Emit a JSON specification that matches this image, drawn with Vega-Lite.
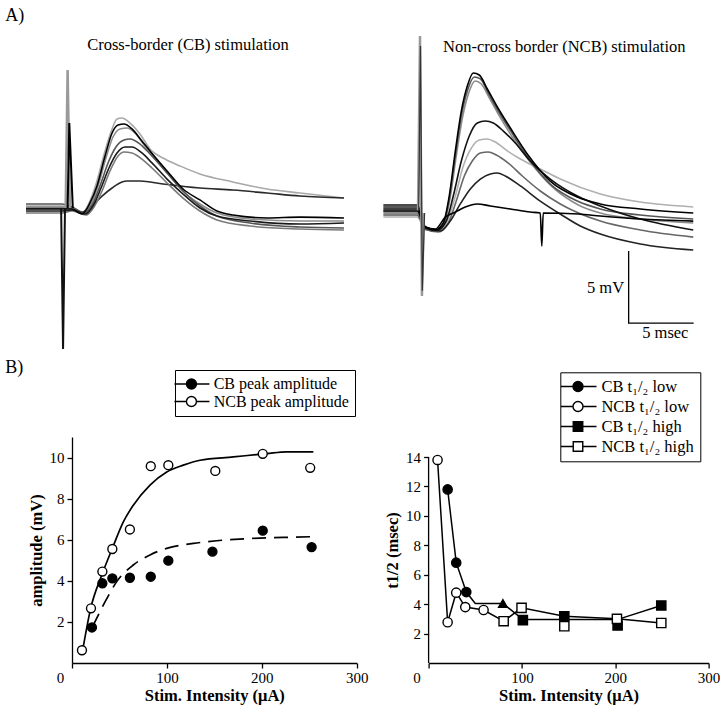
{
"$schema": "https://vega.github.io/schema/vega-lite/v6.json",
"background": "white",
"padding": {"left": 5, "top": 6, "right": 0, "bottom": 2},
"resolve": {"scale": {"color": "independent", "fill": "independent", "shape": "independent", "stroke": "independent"}, "legend": {"color": "independent", "fill": "independent", "shape": "independent", "stroke": "independent"}},
"config": {
  "view": {"stroke": null},
  "font": "Liberation Serif",
  "text": {"font": "Liberation Serif", "color": "black"},
  "axis": {"domainColor": "black", "domainWidth": 1.3, "tickColor": "black", "tickWidth": 1.3, "tickSize": 5, "labelFont": "Liberation Serif", "labelFontSize": 15, "labelColor": "black", "titleFont": "Liberation Serif", "titleFontSize": 16.5, "titleFontWeight": "bold", "titleColor": "black", "grid": false, "labelFlush": false, "labelOverlap": false},
  "legend": {"orient": "none", "strokeColor": "black", "fillColor": "white", "padding": 6, "cornerRadius": 0, "labelFont": "Liberation Serif", "labelFontSize": 16.5, "labelColor": "black", "symbolStrokeColor": "black", "symbolStrokeWidth": 1.4, "symbolSize": 100, "labelLimit": 300}
},
"datasets": {
  "tracesL": [
    {"tr":"L1","t":-3.0,"v":0.14},{"tr":"L1","t":-0.23,"v":0.14},{"tr":"L1","t":0.54,"v":0},{"tr":"L1","t":1.31,"v":-0.35},{"tr":"L1","t":1.92,"v":0.49},{"tr":"L1","t":2.46,"v":1.88},{"tr":"L1","t":3.08,"v":3.96},{"tr":"L1","t":3.62,"v":5.49},{"tr":"L1","t":4.0,"v":6.18},{"tr":"L1","t":4.38,"v":6.25},{"tr":"L1","t":5.0,"v":5.9},{"tr":"L1","t":5.77,"v":5.14},{"tr":"L1","t":6.54,"v":4.1},{"tr":"L1","t":7.69,"v":3.4},{"tr":"L1","t":8.85,"v":2.92},{"tr":"L1","t":10.38,"v":2.36},{"tr":"L1","t":12.92,"v":1.81},{"tr":"L1","t":15.54,"v":1.32},{"tr":"L1","t":18.08,"v":1.04},{"tr":"L1","t":21.46,"v":0.69},
    {"tr":"L7","t":-3.0,"v":0},{"tr":"L7","t":-0.23,"v":0},{"tr":"L7","t":0.54,"v":0},{"tr":"L7","t":1.31,"v":-0.28},{"tr":"L7","t":2.08,"v":0.14},{"tr":"L7","t":2.85,"v":0.83},{"tr":"L7","t":3.62,"v":1.39},{"tr":"L7","t":4.38,"v":1.81},{"tr":"L7","t":4.77,"v":1.88},{"tr":"L7","t":5.77,"v":1.88},{"tr":"L7","t":7.54,"v":1.67},{"tr":"L7","t":10.38,"v":1.39},{"tr":"L7","t":12.92,"v":1.25},{"tr":"L7","t":15.54,"v":1.04},{"tr":"L7","t":18.08,"v":0.83},{"tr":"L7","t":21.46,"v":0.69},
    {"tr":"L5","t":-3.0,"v":-0.35},{"tr":"L5","t":-0.23,"v":-0.35},{"tr":"L5","t":0.54,"v":-0.21},{"tr":"L5","t":1.62,"v":-0.49},{"tr":"L5","t":2.23,"v":0.07},{"tr":"L5","t":2.85,"v":1.18},{"tr":"L5","t":3.46,"v":2.57},{"tr":"L5","t":4.08,"v":3.61},{"tr":"L5","t":4.54,"v":3.89},{"tr":"L5","t":5.15,"v":3.82},{"tr":"L5","t":5.92,"v":3.4},{"tr":"L5","t":6.69,"v":2.78},{"tr":"L5","t":7.85,"v":1.74},{"tr":"L5","t":9.08,"v":0.69},{"tr":"L5","t":10.38,"v":-0.21},{"tr":"L5","t":11.69,"v":-0.83},{"tr":"L5","t":14.23,"v":-1.25},{"tr":"L5","t":18.08,"v":-1.46},{"tr":"L5","t":21.46,"v":-1.53},
    {"tr":"L6","t":-3.0,"v":0.07},{"tr":"L6","t":-0.23,"v":0.07},{"tr":"L6","t":0.54,"v":0},{"tr":"L6","t":1.38,"v":-0.35},{"tr":"L6","t":2.0,"v":0.28},{"tr":"L6","t":2.54,"v":1.53},{"tr":"L6","t":3.15,"v":3.47},{"tr":"L6","t":3.69,"v":4.93},{"tr":"L6","t":4.23,"v":5.49},{"tr":"L6","t":4.77,"v":5.56},{"tr":"L6","t":5.38,"v":5.21},{"tr":"L6","t":6.15,"v":4.31},{"tr":"L6","t":6.92,"v":3.47},{"tr":"L6","t":8.08,"v":2.22},{"tr":"L6","t":9.23,"v":1.04},{"tr":"L6","t":10.38,"v":0.28},{"tr":"L6","t":11.69,"v":-0.35},{"tr":"L6","t":14.23,"v":-0.76},{"tr":"L6","t":18.08,"v":-0.9},{"tr":"L6","t":21.46,"v":-0.9},
    {"tr":"L3","t":-3.0,"v":0.28},{"tr":"L3","t":-0.23,"v":0.28},{"tr":"L3","t":0.54,"v":0.07},{"tr":"L3","t":1.46,"v":-0.35},{"tr":"L3","t":2.08,"v":0.21},{"tr":"L3","t":2.69,"v":1.53},{"tr":"L3","t":3.31,"v":3.13},{"tr":"L3","t":3.92,"v":4.24},{"tr":"L3","t":4.54,"v":4.72},{"tr":"L3","t":5.0,"v":4.79},{"tr":"L3","t":5.77,"v":4.44},{"tr":"L3","t":6.54,"v":3.75},{"tr":"L3","t":7.85,"v":2.43},{"tr":"L3","t":9.08,"v":1.18},{"tr":"L3","t":10.38,"v":0.14},{"tr":"L3","t":11.69,"v":-0.56},{"tr":"L3","t":14.23,"v":-1.04},{"tr":"L3","t":18.08,"v":-1.32},{"tr":"L3","t":21.46,"v":-1.39},
    {"tr":"L4","t":-3.0,"v":-0.21},{"tr":"L4","t":-0.23,"v":-0.21},{"tr":"L4","t":0.54,"v":-0.14},{"tr":"L4","t":1.54,"v":-0.42},{"tr":"L4","t":2.15,"v":0.14},{"tr":"L4","t":2.77,"v":1.39},{"tr":"L4","t":3.38,"v":2.78},{"tr":"L4","t":4.0,"v":3.82},{"tr":"L4","t":4.62,"v":4.24},{"tr":"L4","t":5.15,"v":4.24},{"tr":"L4","t":5.92,"v":3.82},{"tr":"L4","t":6.69,"v":3.13},{"tr":"L4","t":7.85,"v":2.01},{"tr":"L4","t":9.08,"v":0.97},{"tr":"L4","t":10.38,"v":0},{"tr":"L4","t":11.69,"v":-0.56},{"tr":"L4","t":14.23,"v":-0.9},{"tr":"L4","t":18.08,"v":-1.11},{"tr":"L4","t":21.46,"v":-1.04},
    {"tr":"L2","t":-3.0,"v":-0.07},{"tr":"L2","t":-0.23,"v":-0.07},{"tr":"L2","t":0.54,"v":-0.07},{"tr":"L2","t":1.31,"v":-0.42},{"tr":"L2","t":1.92,"v":0.35},{"tr":"L2","t":2.46,"v":1.53},{"tr":"L2","t":3.08,"v":3.61},{"tr":"L2","t":3.62,"v":5.21},{"tr":"L2","t":4.08,"v":5.76},{"tr":"L2","t":4.54,"v":5.83},{"tr":"L2","t":5.15,"v":5.49},{"tr":"L2","t":5.92,"v":4.65},{"tr":"L2","t":6.54,"v":3.96},{"tr":"L2","t":7.85,"v":2.57},{"tr":"L2","t":9.08,"v":1.32},{"tr":"L2","t":10.38,"v":0.56},{"tr":"L2","t":11.69,"v":-0.21},{"tr":"L2","t":12.92,"v":-0.49},{"tr":"L2","t":15.54,"v":-0.69},{"tr":"L2","t":18.08,"v":-0.63},{"tr":"L2","t":21.46,"v":-0.69}
  ],
  "artL": [
    {"tr":"LA1","t":-0.3,"v":0},{"tr":"LA1","t":-0.15,"v":-9.79},{"tr":"LA1","t":0.0,"v":0},
    {"tr":"LA2","t":0.05,"v":0},{"tr":"LA2","t":0.2,"v":9.58},{"tr":"LA2","t":0.38,"v":0},
    {"tr":"LA3","t":0.2,"v":0},{"tr":"LA3","t":0.33,"v":5.9},{"tr":"LA3","t":0.6,"v":0}
  ],
  "tracesR": [
    {"tr":"R5","t":-2.92,"v":-0.28},{"tr":"R5","t":-0.31,"v":-0.28},{"tr":"R5","t":0.31,"v":-1.18},{"tr":"R5","t":1.31,"v":-1.25},{"tr":"R5","t":2.0,"v":-0.56},{"tr":"R5","t":2.62,"v":1.18},{"tr":"R5","t":3.23,"v":3.26},{"tr":"R5","t":3.85,"v":4.51},{"tr":"R5","t":4.46,"v":5.07},{"tr":"R5","t":5.08,"v":5.14},{"tr":"R5","t":5.69,"v":4.93},{"tr":"R5","t":6.62,"v":4.31},{"tr":"R5","t":7.62,"v":3.75},{"tr":"R5","t":9.15,"v":3.06},{"tr":"R5","t":10.69,"v":2.36},{"tr":"R5","t":13.77,"v":1.32},{"tr":"R5","t":16.85,"v":0.76},{"tr":"R5","t":20.92,"v":0.42},
    {"tr":"R3","t":-2.92,"v":0.14},{"tr":"R3","t":-0.31,"v":0.14},{"tr":"R3","t":0.31,"v":-1.04},{"tr":"R3","t":1.15,"v":-1.25},{"tr":"R3","t":1.77,"v":-0.69},{"tr":"R3","t":2.23,"v":1.11},{"tr":"R3","t":2.69,"v":3.96},{"tr":"R3","t":3.15,"v":6.53},{"tr":"R3","t":3.62,"v":8.26},{"tr":"R3","t":4.15,"v":9.17},{"tr":"R3","t":4.62,"v":8.96},{"tr":"R3","t":5.23,"v":7.99},{"tr":"R3","t":6.0,"v":6.74},{"tr":"R3","t":7.0,"v":5.28},{"tr":"R3","t":8.31,"v":3.61},{"tr":"R3","t":10.08,"v":1.81},{"tr":"R3","t":12.08,"v":0.56},{"tr":"R3","t":13.77,"v":0},{"tr":"R3","t":16.85,"v":-0.42},{"tr":"R3","t":20.92,"v":-0.69},
    {"tr":"R6","t":-2.92,"v":0},{"tr":"R6","t":-0.31,"v":0},{"tr":"R6","t":0.31,"v":-1.11},{"tr":"R6","t":1.31,"v":-1.32},{"tr":"R6","t":2.08,"v":-0.69},{"tr":"R6","t":2.69,"v":0.83},{"tr":"R6","t":3.31,"v":2.57},{"tr":"R6","t":3.92,"v":3.61},{"tr":"R6","t":4.54,"v":4.17},{"tr":"R6","t":5.15,"v":4.24},{"tr":"R6","t":5.77,"v":4.03},{"tr":"R6","t":6.69,"v":3.47},{"tr":"R6","t":7.77,"v":2.57},{"tr":"R6","t":9.15,"v":1.53},{"tr":"R6","t":10.69,"v":0.63},{"tr":"R6","t":13.77,"v":-0.56},{"tr":"R6","t":16.85,"v":-1.18},{"tr":"R6","t":20.92,"v":-1.67},
    {"tr":"R2","t":-2.92,"v":-0.14},{"tr":"R2","t":-0.31,"v":-0.14},{"tr":"R2","t":0.31,"v":-1.11},{"tr":"R2","t":1.08,"v":-1.25},{"tr":"R2","t":1.69,"v":-0.76},{"tr":"R2","t":2.15,"v":0.97},{"tr":"R2","t":2.62,"v":3.96},{"tr":"R2","t":3.08,"v":6.74},{"tr":"R2","t":3.54,"v":8.47},{"tr":"R2","t":4.08,"v":9.44},{"tr":"R2","t":4.54,"v":9.31},{"tr":"R2","t":5.15,"v":8.33},{"tr":"R2","t":5.92,"v":7.08},{"tr":"R2","t":6.92,"v":5.63},{"tr":"R2","t":8.23,"v":3.82},{"tr":"R2","t":9.92,"v":2.01},{"tr":"R2","t":12.0,"v":0.83},{"tr":"R2","t":13.77,"v":0.28},{"tr":"R2","t":16.85,"v":-0.14},{"tr":"R2","t":20.92,"v":-0.42},
    {"tr":"R7","t":-2.92,"v":0.42},{"tr":"R7","t":-0.31,"v":0.42},{"tr":"R7","t":0.31,"v":-1.04},{"tr":"R7","t":1.46,"v":-1.25},{"tr":"R7","t":2.23,"v":-0.56},{"tr":"R7","t":3.0,"v":0.63},{"tr":"R7","t":3.77,"v":1.67},{"tr":"R7","t":4.54,"v":2.36},{"tr":"R7","t":5.31,"v":2.71},{"tr":"R7","t":5.85,"v":2.78},{"tr":"R7","t":6.46,"v":2.57},{"tr":"R7","t":7.62,"v":1.88},{"tr":"R7","t":9.15,"v":0.83},{"tr":"R7","t":10.69,"v":-0.07},{"tr":"R7","t":12.23,"v":-0.9},{"tr":"R7","t":13.77,"v":-1.46},{"tr":"R7","t":16.85,"v":-2.15},{"tr":"R7","t":20.92,"v":-2.57},
    {"tr":"R4","t":-2.92,"v":0.56},{"tr":"R4","t":-0.31,"v":0.56},{"tr":"R4","t":0.31,"v":-0.97},{"tr":"R4","t":1.23,"v":-1.18},{"tr":"R4","t":1.92,"v":-0.56},{"tr":"R4","t":2.46,"v":1.18},{"tr":"R4","t":3.08,"v":3.61},{"tr":"R4","t":3.69,"v":5.35},{"tr":"R4","t":4.31,"v":6.25},{"tr":"R4","t":4.92,"v":6.39},{"tr":"R4","t":5.54,"v":6.25},{"tr":"R4","t":6.31,"v":5.69},{"tr":"R4","t":7.23,"v":4.86},{"tr":"R4","t":8.38,"v":3.61},{"tr":"R4","t":9.92,"v":2.36},{"tr":"R4","t":12.0,"v":1.18},{"tr":"R4","t":13.77,"v":0.49},{"tr":"R4","t":16.85,"v":-0.42},{"tr":"R4","t":20.92,"v":-1.18},
    {"tr":"R8","t":-2.92,"v":0.14},{"tr":"R8","t":-0.31,"v":0.14},{"tr":"R8","t":0.31,"v":-0.97},{"tr":"R8","t":1.08,"v":-1.11},{"tr":"R8","t":1.85,"v":-0.28},{"tr":"R8","t":2.62,"v":0.07},{"tr":"R8","t":3.38,"v":0.42},{"tr":"R8","t":4.31,"v":0.63},{"tr":"R8","t":5.31,"v":0.49},{"tr":"R8","t":6.85,"v":0.28},{"tr":"R8","t":8.38,"v":0.07},{"tr":"R8","t":9.15,"v":0},{"tr":"R8","t":9.27,"v":-2.29},{"tr":"R8","t":9.38,"v":0},{"tr":"R8","t":12.08,"v":-0.07},{"tr":"R8","t":13.77,"v":-0.21},{"tr":"R8","t":16.85,"v":-0.42},{"tr":"R8","t":20.92,"v":-0.56},
    {"tr":"R1","t":-2.92,"v":0.28},{"tr":"R1","t":-0.31,"v":0.28},{"tr":"R1","t":0.31,"v":-0.97},{"tr":"R1","t":1.08,"v":-1.18},{"tr":"R1","t":1.69,"v":-0.69},{"tr":"R1","t":2.15,"v":1.18},{"tr":"R1","t":2.62,"v":4.31},{"tr":"R1","t":3.08,"v":7.08},{"tr":"R1","t":3.54,"v":8.82},{"tr":"R1","t":4.0,"v":9.72},{"tr":"R1","t":4.46,"v":9.58},{"tr":"R1","t":5.08,"v":8.61},{"tr":"R1","t":5.85,"v":7.36},{"tr":"R1","t":6.85,"v":5.9},{"tr":"R1","t":8.15,"v":4.1},{"tr":"R1","t":9.92,"v":2.22},{"tr":"R1","t":12.0,"v":1.11},{"tr":"R1","t":13.77,"v":0.63},{"tr":"R1","t":16.85,"v":0.28},{"tr":"R1","t":20.92,"v":0}
  ],
  "artR": [
    {"tr":"RA1","t":-0.25,"v":0.2},{"tr":"RA1","t":-0.1,"v":12.29},{"tr":"RA1","t":0.05,"v":-5.76},{"tr":"RA1","t":0.2,"v":0},
    {"tr":"RA2","t":-0.2,"v":0.2},{"tr":"RA2","t":-0.06,"v":11.6},{"tr":"RA2","t":0.08,"v":-5.4},{"tr":"RA2","t":0.25,"v":0}
  ],
  "scaleBar": [
    {"i":0,"t":15.95,"v":-2.64},{"i":1,"t":15.95,"v":-7.64},{"i":2,"t":20.95,"v":-7.64}
  ],
  "ampPts": [
    {"series":"NCB peak amplitude","x":10.5,"y":0.62},{"series":"NCB peak amplitude","x":20,"y":2.66},{"series":"NCB peak amplitude","x":32,"y":4.45},{"series":"NCB peak amplitude","x":42.5,"y":5.55},{"series":"NCB peak amplitude","x":61,"y":6.5},{"series":"NCB peak amplitude","x":83,"y":9.58},{"series":"NCB peak amplitude","x":101.5,"y":9.63},{"series":"NCB peak amplitude","x":151,"y":9.35},{"series":"NCB peak amplitude","x":201,"y":10.18},{"series":"NCB peak amplitude","x":251,"y":9.5},
    {"series":"CB peak amplitude","x":21,"y":1.73},{"series":"CB peak amplitude","x":32,"y":3.88},{"series":"CB peak amplitude","x":42.5,"y":4.12},{"series":"CB peak amplitude","x":61,"y":4.15},{"series":"CB peak amplitude","x":83,"y":4.2},{"series":"CB peak amplitude","x":101.5,"y":4.98},{"series":"CB peak amplitude","x":148,"y":5.42},{"series":"CB peak amplitude","x":201,"y":6.44},{"series":"CB peak amplitude","x":252.5,"y":5.64}
  ],
  "ampFit": [
    {"series":"NCB","x":10.8,"y":0.5},{"series":"NCB","x":19.7,"y":2.66},{"series":"NCB","x":31.3,"y":4.27},{"series":"NCB","x":42.5,"y":5.58},{"series":"NCB","x":54.1,"y":6.87},{"series":"NCB","x":64.6,"y":7.68},{"series":"NCB","x":82.2,"y":8.66},{"series":"NCB","x":99.8,"y":9.3},{"series":"NCB","x":117.3,"y":9.63},{"series":"NCB","x":134.9,"y":9.87},{"series":"NCB","x":170,"y":10.03},{"series":"NCB","x":205.1,"y":10.19},{"series":"NCB","x":226.2,"y":10.28},{"series":"NCB","x":254.3,"y":10.28},
    {"series":"CB","x":21.8,"y":1.78},{"series":"CB","x":29.5,"y":2.5},{"series":"CB","x":36.5,"y":3.12},{"series":"CB","x":47.1,"y":3.96},{"series":"CB","x":64.6,"y":4.77},{"series":"CB","x":82.2,"y":5.26},{"series":"CB","x":99.8,"y":5.58},{"series":"CB","x":127.9,"y":5.82},{"series":"CB","x":152.4,"y":5.95},{"series":"CB","x":187.6,"y":6.06},{"series":"CB","x":222.7,"y":6.11},{"series":"CB","x":254.3,"y":6.15}
  ],
  "t12Pts": [
    {"series":"NCB t₁/₂ low","x":9.6,"y":13.8},{"series":"NCB t₁/₂ low","x":20.4,"y":2.77},{"series":"NCB t₁/₂ low","x":29.6,"y":4.78},{"series":"NCB t₁/₂ low","x":39.3,"y":3.8},{"series":"NCB t₁/₂ low","x":58.9,"y":3.6},
    {"series":"CB t₁/₂ low","x":20.4,"y":11.8},{"series":"CB t₁/₂ low","x":29.6,"y":6.82},{"series":"CB t₁/₂ low","x":40.4,"y":4.82},
    {"series":"CB t₁/₂ high","x":101,"y":2.91},{"series":"CB t₁/₂ high","x":145.4,"y":3.18},{"series":"CB t₁/₂ high","x":202.5,"y":2.55},{"series":"CB t₁/₂ high","x":249.3,"y":3.91},
    {"series":"NCB t₁/₂ high","x":80.4,"y":2.84},{"series":"NCB t₁/₂ high","x":99.6,"y":3.75},{"series":"NCB t₁/₂ high","x":145.4,"y":2.5},{"series":"NCB t₁/₂ high","x":201.8,"y":3.0},{"series":"NCB t₁/₂ high","x":249.3,"y":2.72}
  ],
  "t12Tri": [{"x":79.6,"y":4.05}],
  "t12Lines": [
    {"path":"a","x":20.4,"y":11.8},{"path":"a","x":29.6,"y":6.82},{"path":"a","x":40.4,"y":4.82},{"path":"a","x":50,"y":4.05},{"path":"a","x":79.6,"y":4.05},{"path":"a","x":101,"y":2.95},{"path":"a","x":145,"y":2.95},{"path":"a","x":202,"y":2.95},{"path":"a","x":249.3,"y":3.91},
    {"path":"b","x":9.6,"y":13.8},{"path":"b","x":20.4,"y":2.77},{"path":"b","x":29.6,"y":4.78},{"path":"b","x":39.3,"y":3.8},{"path":"b","x":58.9,"y":3.6},{"path":"b","x":80.4,"y":2.84},{"path":"b","x":99.6,"y":3.75},{"path":"b","x":145.4,"y":3.18},{"path":"b","x":201.8,"y":3.0},{"path":"b","x":249.3,"y":2.72}
  ]
},
"columns": 2,
"bounds": "flush",
"spacing": {"row": 88, "column": 71.6},
"concat": [
  {
    "width": 284.7, "height": 313,
    "layer": [
      {"data": {"name": "tracesL"}, "mark": {"type": "line", "interpolate": "monotone", "strokeWidth": 1.6},
       "encoding": {
         "x": {"field": "t", "type": "quantitative", "scale": {"domain": [0.538, 22.44], "nice": false, "zero": false}, "axis": null},
         "y": {"field": "v", "type": "quantitative", "scale": {"domain": [-9.79, 11.944], "nice": false, "zero": false}, "axis": null},
         "color": {"field": "tr", "type": "nominal", "scale": {"domain": ["L1","L7","L5","L6","L3","L4","L2"], "range": ["#a8a8a8","#2a2a2a","#7a7a7a","#8c8c8c","#555555","#1a1a1a","#000000"]}, "legend": null}
       }},
      {"data": {"name": "artL"}, "transform": [{"filter": "datum.tr === 'LA1'"}], "mark": {"type": "line", "color": "#111111", "strokeWidth": 2}, "encoding": {"x": {"field": "t", "type": "quantitative"}, "y": {"field": "v", "type": "quantitative"}}},
      {"data": {"name": "artL"}, "transform": [{"filter": "datum.tr === 'LA2'"}], "mark": {"type": "line", "color": "#9a9a9a", "strokeWidth": 2.5}, "encoding": {"x": {"field": "t", "type": "quantitative"}, "y": {"field": "v", "type": "quantitative"}}},
      {"data": {"name": "artL"}, "transform": [{"filter": "datum.tr === 'LA3'"}], "mark": {"type": "line", "color": "#000000", "strokeWidth": 2}, "encoding": {"x": {"field": "t", "type": "quantitative"}, "y": {"field": "v", "type": "quantitative"}}},
      {"data": {"values": [{}]}, "mark": {"type": "text", "text": "A)", "fontSize": 18, "align": "left", "baseline": "alphabetic"}, "encoding": {"x": {"datum": -4.6}, "y": {"datum": 12.99}}},
      {"data": {"values": [{}]}, "mark": {"type": "text", "text": "Cross-border (CB) stimulation", "fontSize": 16.5, "align": "center", "baseline": "alphabetic"}, "encoding": {"x": {"datum": 9.46}, "y": {"datum": 10.97}}}
    ]
  },
  {
    "width": 280, "height": 313,
    "layer": [
      {"data": {"name": "tracesR"}, "mark": {"type": "line", "interpolate": "monotone", "strokeWidth": 1.6},
       "encoding": {
         "x": {"field": "t", "type": "quantitative", "scale": {"domain": [0.562, 22.1], "nice": false, "zero": false}, "axis": null},
         "y": {"field": "v", "type": "quantitative", "scale": {"domain": [-9.44, 12.29], "nice": false, "zero": false}, "axis": null},
         "color": {"field": "tr", "type": "nominal", "scale": {"domain": ["R5","R3","R6","R2","R7","R4","R8","R1"], "range": ["#b0b0b0","#8c8c8c","#666666","#555555","#222222","#111111","#000000","#000000"]}, "legend": null}
       }},
      {"data": {"name": "artR"}, "transform": [{"filter": "datum.tr === 'RA1'"}], "mark": {"type": "line", "color": "#9a9a9a", "strokeWidth": 2.5}, "encoding": {"x": {"field": "t", "type": "quantitative"}, "y": {"field": "v", "type": "quantitative"}}},
      {"data": {"name": "artR"}, "transform": [{"filter": "datum.tr === 'RA2'"}], "mark": {"type": "line", "color": "#333333", "strokeWidth": 1.2}, "encoding": {"x": {"field": "t", "type": "quantitative"}, "y": {"field": "v", "type": "quantitative"}}},
      {"data": {"name": "scaleBar"}, "mark": {"type": "line", "color": "black", "strokeWidth": 1.3}, "encoding": {"x": {"field": "t", "type": "quantitative"}, "y": {"field": "v", "type": "quantitative"}, "order": {"field": "i", "type": "quantitative"}}},
      {"data": {"values": [{}]}, "mark": {"type": "text", "text": "Non-cross border (NCB) stimulation", "fontSize": 16.5, "align": "center", "baseline": "alphabetic"}, "encoding": {"x": {"datum": 11.0}, "y": {"datum": 11.18}}},
      {"data": {"values": [{}]}, "mark": {"type": "text", "text": "5 mV", "fontSize": 16.5, "align": "right", "baseline": "alphabetic"}, "encoding": {"x": {"datum": 15.6}, "y": {"datum": -5.53}}},
      {"data": {"values": [{}]}, "mark": {"type": "text", "text": "5 msec", "fontSize": 16.5, "align": "center", "baseline": "alphabetic"}, "encoding": {"x": {"datum": 18.77}, "y": {"datum": -8.68}}}
    ]
  },
  {
    "width": 284.7, "height": 226,
    "layer": [
      {"data": {"name": "ampFit"}, "transform": [{"filter": "datum.series === 'NCB'"}], "mark": {"type": "line", "interpolate": "monotone", "color": "black", "strokeWidth": 1.7},
       "encoding": {
         "x": {"field": "x", "type": "quantitative", "scale": {"domain": [0, 300], "nice": false, "zero": false}, "axis": {"values": [0, 100, 200, 300], "tickCount": 10, "title": "Stim. Intensity (μA)", "labelPadding": 2, "titlePadding": 2.5, "labelOffset": {"condition": {"test": "datum.value === 0", "value": -12}, "value": 0}}},
         "y": {"field": "y", "type": "quantitative", "scale": {"domain": [0, 11], "nice": false, "zero": false}, "axis": {"values": [2, 4, 6, 8, 10], "tickCount": 10, "title": "amplitude (mV)", "labelPadding": 3, "titlePadding": 5}}
       }},
      {"data": {"name": "ampFit"}, "transform": [{"filter": "datum.series === 'CB'"}], "mark": {"type": "line", "interpolate": "monotone", "color": "black", "strokeWidth": 1.7, "strokeDash": [14, 8]},
       "encoding": {"x": {"field": "x", "type": "quantitative"}, "y": {"field": "y", "type": "quantitative"}}},
      {"data": {"name": "ampPts"}, "transform": [{"filter": "datum.series === 'NCB peak amplitude'"}], "mark": {"type": "point", "shape": "circle", "size": 80, "filled": true, "fill": "white", "stroke": "black", "strokeWidth": 1.4, "opacity": 1},
       "encoding": {"x": {"field": "x", "type": "quantitative"}, "y": {"field": "y", "type": "quantitative"}}},
      {"data": {"name": "ampPts"}, "transform": [{"filter": "datum.series === 'CB peak amplitude'"}], "mark": {"type": "point", "shape": "circle", "size": 80, "filled": true, "fill": "black", "stroke": "black", "strokeWidth": 1.4, "opacity": 1},
       "encoding": {"x": {"field": "x", "type": "quantitative"}, "y": {"field": "y", "type": "quantitative"}}},
      {"data": {"name": "ampPts"}, "mark": {"type": "point", "size": 0, "shape": "M-3.4,0L-1,0M1,0L3.6,0M1,0A1,1,0,1,1,-1,0A1,1,0,1,1,1,0Z", "filled": true, "stroke": "black", "strokeWidth": 1.4, "opacity": 1},
       "encoding": {
         "x": {"field": "x", "type": "quantitative"}, "y": {"field": "y", "type": "quantitative"},
         "fill": {"field": "series", "type": "nominal", "scale": {"domain": ["CB peak amplitude", "NCB peak amplitude"], "range": ["black", "white"]},
                  "legend": {"title": null, "orient": "none", "legendX": 103, "legendY": -67, "symbolOffset": 2.45, "labelOffset": 14.2, "rowPadding": 1.5, "labelFontSize": 16}}
       }},
      {"data": {"values": [{}]}, "mark": {"type": "text", "text": "B)", "fontSize": 18, "align": "left", "baseline": "alphabetic"}, "encoding": {"x": {"datum": -70.4}, "y": {"datum": 14.12}}}
    ]
  },
  {
    "width": 280, "height": 226,
    "layer": [
      {"data": {"name": "t12Lines"}, "mark": {"type": "line", "color": "black", "strokeWidth": 1.5},
       "encoding": {
         "x": {"field": "x", "type": "quantitative", "scale": {"domain": [0, 300], "nice": false, "zero": false}, "axis": {"values": [0, 100, 200, 300], "tickCount": 10, "title": "Stim. Intensity (μA)", "labelPadding": 2, "titlePadding": 2.5, "labelOffset": {"condition": {"test": "datum.value === 0", "value": -12}, "value": 0}}},
         "y": {"field": "y", "type": "quantitative", "scale": {"domain": [0, 15.36], "nice": false, "zero": false}, "axis": {"values": [2, 4, 6, 8, 10, 12, 14], "tickCount": 20, "title": "t1/2 (msec)", "labelPadding": 3, "titlePadding": 5, "domain": false}},
         "detail": {"field": "path", "type": "nominal"}
       }},
      {"data": {"values": [{}]}, "mark": {"type": "rule", "color": "black", "strokeWidth": 1.3}, "encoding": {"x": {"datum": 0}, "y": {"datum": 0}, "y2": {"datum": 14}}},
      {"data": {"name": "t12Pts"}, "transform": [{"filter": "datum.series === 'CB t₁/₂ low'"}], "mark": {"type": "point", "shape": "circle", "size": 85, "filled": true, "fill": "black", "stroke": "black", "strokeWidth": 1.4, "opacity": 1},
       "encoding": {"x": {"field": "x", "type": "quantitative"}, "y": {"field": "y", "type": "quantitative"}}},
      {"data": {"name": "t12Pts"}, "transform": [{"filter": "datum.series === 'NCB t₁/₂ low'"}], "mark": {"type": "point", "shape": "circle", "size": 85, "filled": true, "fill": "white", "stroke": "black", "strokeWidth": 1.4, "opacity": 1},
       "encoding": {"x": {"field": "x", "type": "quantitative"}, "y": {"field": "y", "type": "quantitative"}}},
      {"data": {"name": "t12Pts"}, "transform": [{"filter": "datum.series === 'CB t₁/₂ high'"}], "mark": {"type": "point", "shape": "square", "size": 85, "filled": true, "fill": "black", "stroke": "black", "strokeWidth": 1.4, "opacity": 1},
       "encoding": {"x": {"field": "x", "type": "quantitative"}, "y": {"field": "y", "type": "quantitative"}}},
      {"data": {"name": "t12Pts"}, "transform": [{"filter": "datum.series === 'NCB t₁/₂ high'"}], "mark": {"type": "point", "shape": "square", "size": 85, "filled": true, "fill": "white", "stroke": "black", "strokeWidth": 1.4, "opacity": 1},
       "encoding": {"x": {"field": "x", "type": "quantitative"}, "y": {"field": "y", "type": "quantitative"}}},
      {"data": {"name": "t12Tri"}, "mark": {"type": "point", "shape": "triangle-up", "size": 80, "filled": true, "fill": "black", "stroke": "black", "strokeWidth": 1.2, "opacity": 1},
       "encoding": {"x": {"field": "x", "type": "quantitative"}, "y": {"field": "y", "type": "quantitative"}}},
      {"data": {"name": "t12Pts"}, "mark": {"type": "point", "size": 0, "filled": true, "strokeWidth": 1.4, "opacity": 1},
       "encoding": {
         "x": {"field": "x", "type": "quantitative"}, "y": {"field": "y", "type": "quantitative"},
         "fill": {"field": "series", "type": "nominal", "scale": {"domain": ["CB t₁/₂ low", "NCB t₁/₂ low", "CB t₁/₂ high", "NCB t₁/₂ high"], "range": ["black", "white", "black", "white"]},
                  "legend": {"title": null, "orient": "none", "legendX": 131.7, "legendY": -64.7, "symbolOffset": 3.45, "labelOffset": 15.2, "rowPadding": 3, "symbolStrokeColor": "black", "symbolStrokeWidth": 1.4}},
         "stroke": {"field": "series", "type": "nominal", "scale": {"domain": ["CB t₁/₂ low", "NCB t₁/₂ low", "CB t₁/₂ high", "NCB t₁/₂ high"], "range": ["black", "black", "black", "black"]},
                  "legend": {"title": null, "orient": "none", "legendX": 131.7, "legendY": -64.7, "symbolOffset": 3.45, "labelOffset": 15.2, "rowPadding": 3, "symbolStrokeWidth": 1.4}},
         "shape": {"field": "series", "type": "nominal", "scale": {"domain": ["CB t₁/₂ low", "NCB t₁/₂ low", "CB t₁/₂ high", "NCB t₁/₂ high"], "range": ["M-3.4,0L-1,0M1,0L3.7,0M1,0A1,1,0,1,1,-1,0A1,1,0,1,1,1,0Z", "M-3.4,0L-1,0M1,0L3.7,0M1,0A1,1,0,1,1,-1,0A1,1,0,1,1,1,0Z", "M-3.4,0L-0.95,0M0.95,0L3.7,0M-0.95,-0.95L0.95,-0.95L0.95,0.95L-0.95,0.95Z", "M-3.4,0L-0.95,0M0.95,0L3.7,0M-0.95,-0.95L0.95,-0.95L0.95,0.95L-0.95,0.95Z"]},
                  "legend": {"title": null, "orient": "none", "legendX": 131.7, "legendY": -64.7, "symbolOffset": 3.45, "labelOffset": 15.2, "rowPadding": 3, "symbolStrokeWidth": 1.4}}
       }}
    ]
  }
]
}
